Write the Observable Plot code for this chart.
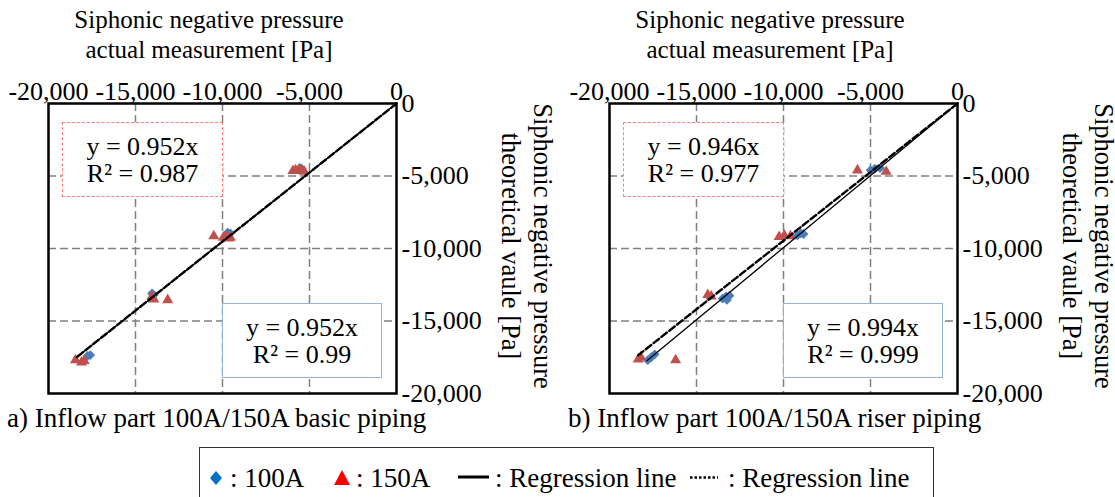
<!DOCTYPE html>
<html>
<head>
<meta charset="utf-8">
<script src="https://cdn.jsdelivr.net/npm/d3@7"></script>
<script src="https://cdn.jsdelivr.net/npm/@observablehq/plot@0.6"></script>
<style>
  html, body { margin: 0; padding: 0; background: #fff; }
  #root { position: relative; width: 1115px; height: 497px; overflow: hidden; background: #fff;
          font-family: "Liberation Serif", "Times New Roman", serif; color: #000; }
  .abs { position: absolute; }
  .title { font-size: 25px; line-height: 30px; text-align: center; white-space: nowrap; }
  .vtitle { font-size: 26.5px; line-height: 32px; text-align: center; white-space: nowrap; transform: rotate(90deg); }
  .caption { font-size: 27px; line-height: 30px; white-space: nowrap; }
  .eqbox { background: #fff; font-size: 26px; line-height: 27px; text-align: center; display: flex;
           flex-direction: column; justify-content: center; box-sizing: border-box; white-space: nowrap; }
  .legend { border: 1.5px solid #333; box-sizing: border-box; }
  .legtext { font-size: 27px; line-height: 30px; white-space: nowrap; }
</style>
</head>
<body>
<div id="root"></div>
<script>
// ---------- data ----------
const axisTicks = [-20000, -15000, -10000, -5000, 0];
const gridTicks = [-15000, -10000, -5000];

const xTitle = ["Siphonic negative pressure", "actual measurement [Pa]"];
const yTitle = ["Siphonic negative pressure", "theoretical vaule [Pa]"];
const captions = ["a) Inflow part 100A/150A basic piping", "b) Inflow part 100A/150A riser piping"];
const legendLabels = ["100A", "150A", "Regression line", "Regression line"];

// Panel a) basic piping
const a100x = [-5550, -5450, -9700, -9550, -14050, -13950, -17750, -17600];
const a100y = [-4450, -4500, -8900, -8950, -13100, -13200, -17400, -17350];
const a150x = [-5950, -5800, -5600, -5450, -5300, -10500, -9950, -9800, -9650, -9550, -14050, -13950, -13150, -18450, -18100, -17950];
const a150y = [-4650, -4600, -4550, -4650, -4700, -9150, -9250, -9150, -9300, -9250, -13300, -13500, -13550, -17700, -17850, -17750];
const aSlope = [0.952, 0.952];   // [100A, 150A]
const aR2 = ["0.99", "0.987"];   // [100A, 150A]
const aLineEnd = [-18400, -18450];

// Panel b) riser piping
const b100x = [-5000, -4750, -4450, -9200, -9000, -8850, -13500, -13300, -13100, -13250, -17800, -17600, -17400];
const b100y = [-4600, -4500, -4450, -9100, -8950, -9000, -13450, -13300, -13250, -13550, -17700, -17500, -17300];
const b150x = [-5750, -4100, -10250, -9950, -9600, -14350, -14150, -18350, -18200, -16200];
const b150y = [-4600, -4700, -9200, -9100, -9150, -13200, -13300, -17650, -17500, -17700];
const bSlope = [0.994, 0.946];
const bR2 = ["0.999", "0.977"];
const bLineEnd = [-17850, -18350];

// ---------- helpers ----------
const fmt = d3.formatLocale({decimal: ".", thousands: ",", grouping: [3], currency: ["", ""], minus: "-"}).format(",");
const zip = (xs, ys) => xs.map((x, i) => ({x, y: ys[i]}));
const regLine = (slope, end) => [{x: 0, y: 0}, {x: end, y: slope * end}];

const root = document.getElementById("root");
function el(cls, css, html) {
  const d = document.createElement("div");
  d.className = cls;
  Object.assign(d.style, css);
  if (html != null) d.innerHTML = html;
  root.appendChild(d);
  return d;
}

function panel(ox, p100x, p100y, p150x, p150y, slope, r2, lineEnd, caption) {
  const chart = Plot.plot({
    width: 554, height: 430,
    marginLeft: 48, marginRight: 158, marginTop: 103, marginBottom: 37,
    x: {domain: [-20000, 0]},
    y: {domain: [-20000, 0]},
    style: {fontFamily: "'Liberation Serif', 'Times New Roman', serif", fontSize: "26px", color: "#000", background: "transparent", overflow: "visible"},
    marks: [
      Plot.gridX(gridTicks, {stroke: "#808080", strokeOpacity: 1, strokeWidth: 1.5, strokeDasharray: "8,4"}),
      Plot.gridY(gridTicks, {stroke: "#808080", strokeOpacity: 1, strokeWidth: 1.5, strokeDasharray: "8,4"}),
      Plot.axisX(axisTicks, {anchor: "top", tickSize: 0, tickPadding: 4, tickFormat: fmt, label: null, fontSize: 26}),
      Plot.axisY(axisTicks, {anchor: "right", tickSize: 0, tickPadding: 5, tickFormat: fmt, label: null, fontSize: 26}),
      Plot.dot(zip(p100x, p100y), {x: "x", y: "y", symbol: "diamond2", r: 4.4, fill: "#4a7ebb", stroke: "none"}),
      Plot.dot(zip(p150x, p150y), {x: "x", y: "y", symbol: "triangle", r: 4.1, fill: "#c0504d", stroke: "none"}),
      Plot.line(regLine(slope[0], lineEnd[0]), {x: "x", y: "y", stroke: "#000", strokeWidth: 1.3}),
      Plot.line(regLine(slope[1], lineEnd[1]), {x: "x", y: "y", stroke: "#000", strokeWidth: 2.4, strokeDasharray: "7,3"}),
      Plot.frame({stroke: "#000", strokeWidth: 2.5})
    ]
  });
  chart.style.position = "absolute";
  chart.style.left = ox + "px";
  chart.style.top = "0px";
  root.appendChild(chart);

  // top title
  el("abs title", {left: (ox + 209 - 200) + "px", top: "5px", width: "400px"}, xTitle.join("<br>"));
  // right title (rotated)
  el("abs vtitle", {left: (ox + 527 - 170) + "px", top: (246 - 32) + "px", width: "340px", height: "64px"}, yTitle.join("<br>"));
  // equation boxes
  el("abs eqbox", {left: (ox + 62) + "px", top: "122px", width: "161px", height: "75px", border: "1px dashed #ff7f7f"},
     `<div>y = ${slope[1].toFixed(3)}x</div><div>R² = ${r2[1]}</div>`);
  el("abs eqbox", {left: (ox + 222) + "px", top: "303px", width: "160px", height: "75px", border: "1.5px solid #95b3d7"},
     `<div>y = ${slope[0].toFixed(3)}x</div><div>R² = ${r2[0]}</div>`);
  // caption
  el("abs caption", {left: (ox + 7) + "px", top: "403px"}, caption);
}

panel(0, a100x, a100y, a150x, a150y, aSlope, aR2, aLineEnd, captions[0]);
panel(561, b100x, b100y, b150x, b150y, bSlope, bR2, bLineEnd, captions[1]);

// ---------- legend ----------
el("abs legend", {left: "199px", top: "447px", width: "735px", height: "70px"});
const sw = (left, top, w, h, inner) => el("abs", {left: left + "px", top: top + "px", width: w + "px", height: h + "px"},
  `<svg width="${w}" height="${h}" style="display:block">${inner}</svg>`);
sw(210, 471, 12, 14, `<path d="M6,0 L12,7 L6,14 L0,7 Z" fill="#0070c0"/>`);
el("abs legtext", {left: "230px", top: "463px"}, ": " + legendLabels[0]);
sw(334, 470, 16, 15, `<path d="M8,0 L16,15 L0,15 Z" fill="#ff0000"/>`);
el("abs legtext", {left: "356px", top: "463px"}, ": " + legendLabels[1]);
sw(458, 474, 31, 6, `<line x1="0" y1="3" x2="31" y2="3" stroke="#000" stroke-width="3"/>`);
el("abs legtext", {left: "495px", top: "463px"}, ": " + legendLabels[2]);
sw(690, 475, 28, 5, `<line x1="0" y1="2.5" x2="28" y2="2.5" stroke="#000" stroke-width="2.5" stroke-dasharray="2.5,2"/>`);
el("abs legtext", {left: "728px", top: "463px"}, ": " + legendLabels[3]);
</script>
</body>
</html>
